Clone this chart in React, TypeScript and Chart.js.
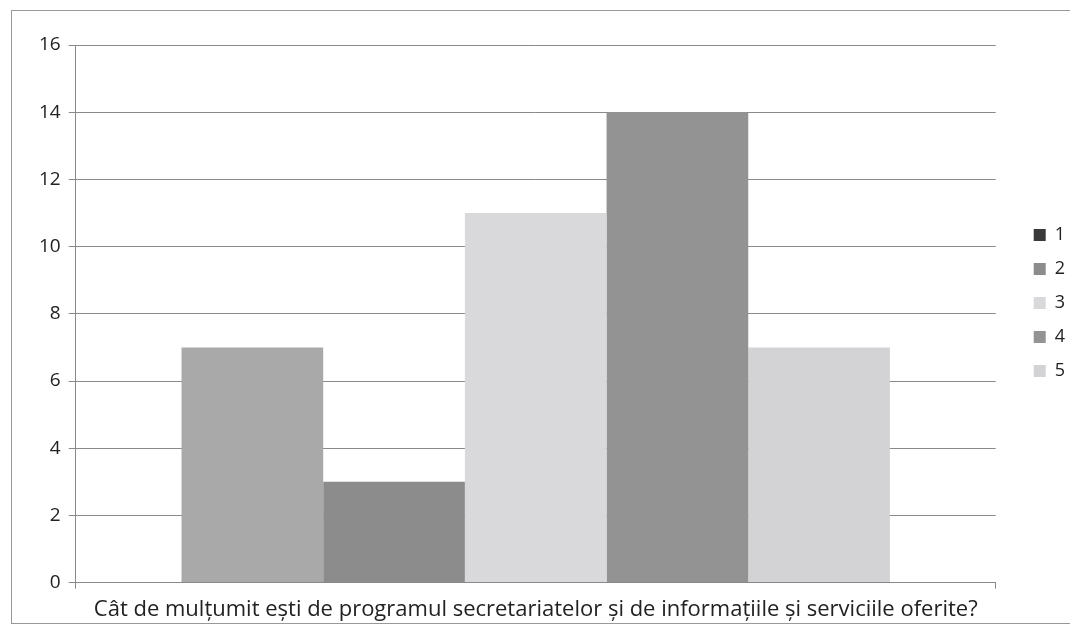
import React, { useEffect, useRef } from "react";
import { Chart, registerables } from "chart.js";

Chart.register(...registerables);

const categories = [""];
const seriesNames = ["1", "2", "3", "4", "5"];
const seriesValues = [7, 3, 11, 14, 7];
const barColors = ["#a9a9a9", "#8c8c8c", "#d9d9db", "#939393", "#d3d3d5"];
const legendColors = ["#3a3a3a", "#8c8c8c", "#d9d9db", "#939393", "#d3d3d5"];
const yTicks = [0, 2, 4, 6, 8, 10, 12, 14, 16];
const xTitle = "Cât de mulțumit ești de programul secretariatelor și de informațiile și serviciile oferite?";

const legendShift = {
  id: "legendShift",
  afterLayout(chart: any) {
    const lg = chart.legend;
    if (!lg) return;
    const dx = 22;
    const dy = -31;
    lg.left += dx;
    lg.right += dx;
    lg.top += dy;
    lg.bottom += dy;
  },
};

export default function App() {
  const ref = useRef<HTMLCanvasElement | null>(null);
  useEffect(() => {
    if (!ref.current) return;
    const font = "Open Sans, Liberation Sans, sans-serif";
    const chart = new Chart(ref.current, {
      type: "bar",
      data: {
        labels: categories,
        datasets: seriesNames.map((n, i) => ({
          label: n,
          data: [seriesValues[i]],
          backgroundColor: barColors[i],
          borderWidth: 0,
          barPercentage: 1,
          categoryPercentage: 0.77,
        })),
      },
      plugins: [legendShift],
      options: {
        animation: false,
        responsive: false,
        layout: { padding: { left: 19, top: 34, right: 25, bottom: 0 } },
        plugins: {
          tooltip: { enabled: false },
          legend: {
            position: "right",
            labels: {
              boxWidth: 12,
              boxHeight: 12,
              padding: 16,
              color: "#222",
              font: { family: font, size: 18 },
              generateLabels: () =>
                seriesNames.map((n, i) => ({
                  text: n,
                  fillStyle: legendColors[i],
                  strokeStyle: legendColors[i],
                  lineWidth: 0,
                  hidden: false,
                  datasetIndex: i,
                  fontColor: "#222",
                })),
            },
          },
        },
        scales: {
          x: {
            offset: true,
            grid: { display: true, drawOnChartArea: false, offset: true, tickLength: 6, color: "#888" },
            border: { color: "#888", width: 1 },
            ticks: { display: false },
            title: {
              display: true,
              text: xTitle,
              color: "#222",
              font: { family: font, size: 22 },
              padding: { top: 8, bottom: 0 },
            },
          },
          y: {
            min: 0,
            max: 16,
            afterBuildTicks: (s: any) => {
              s.ticks = yTicks.map((v) => ({ value: v }));
            },
            grid: { color: "#8a8a8a", lineWidth: 1, tickLength: 7 },
            border: { color: "#888", width: 1 },
            ticks: { color: "#222", font: { family: font, size: 19 }, padding: 8 },
          },
        },
      },
    });
    return () => chart.destroy();
  }, []);
  return (
    <div
      style={{
        width: 1067,
        height: 612,
        borderTop: "1px solid #999",
        borderLeft: "1px solid #999",
        borderBottom: "1px solid #999",
        marginLeft: 3,
        marginTop: 2,
        background: "#fff",
      }}
    >
      <canvas ref={ref} width={1066} height={612} style={{ display: "block" }} />
    </div>
  );
}
